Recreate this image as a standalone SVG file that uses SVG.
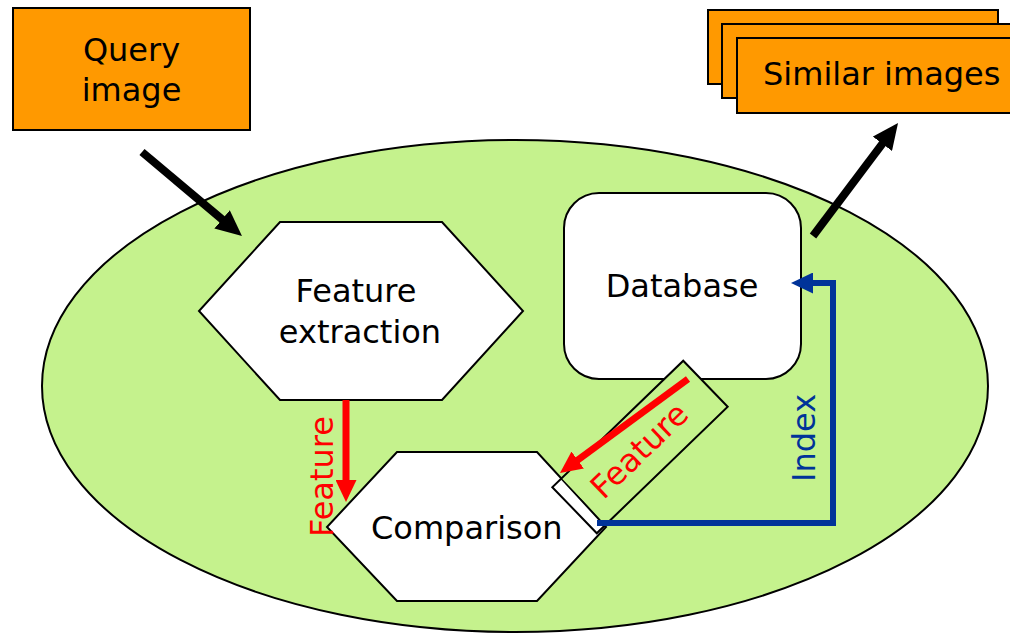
<svg xmlns="http://www.w3.org/2000/svg" width="1010" height="636" viewBox="0 0 1010 636">
<style>
text{font-family:"DejaVu Sans","Liberation Sans",sans-serif;font-size:32px;fill:#000}
.box{fill:#FF9900;stroke:#000;stroke-width:2}
.node{fill:#fff;stroke:#000;stroke-width:2}
.blk{stroke:#000;stroke-width:8;fill:none}
.red{stroke:#FF0000;stroke-width:7;fill:none}
.blu{stroke:#003399;stroke-width:6;fill:none;stroke-linejoin:miter}
.rt{fill:#FF0000}
.bt{fill:#003399}
</style>
<defs>
<marker id="hb" markerUnits="userSpaceOnUse" markerWidth="26" markerHeight="24" refX="2" refY="12" orient="auto" viewBox="0 0 26 24"><path d="M0,0 L26,12 L0,24 z" fill="#000"/></marker>
<marker id="hr" markerUnits="userSpaceOnUse" markerWidth="22" markerHeight="21" refX="2" refY="10.5" orient="auto" viewBox="0 0 22 21"><path d="M0,0 L22,10.5 L0,21 z" fill="#FF0000"/></marker>
<marker id="hl" markerUnits="userSpaceOnUse" markerWidth="22" markerHeight="21" refX="2" refY="10.5" orient="auto" viewBox="0 0 22 21"><path d="M0,0 L22,10.5 L0,21 z" fill="#003399"/></marker>
</defs>
<g id="system">
<ellipse cx="515" cy="386" rx="473" ry="246" fill="#C5F28D" stroke="#000" stroke-width="2"/>
</g>
<g id="query">
<rect class="box" x="13" y="8" width="237" height="122"/>
<text x="131.5" y="61" text-anchor="middle">Query</text>
<text x="131.5" y="101" text-anchor="middle">image</text>
</g>
<g id="similar">
<rect class="box" x="708" y="10" width="290" height="74"/>
<rect class="box" x="722" y="24" width="300" height="74"/>
<rect class="box" x="737" y="38" width="300" height="75"/>
<text x="763" y="85">Similar images</text>
</g>
<g id="extraction">
<polygon class="node" points="280,222 442,222 523,311 442,400 280,400 199,311"/>
<text x="356" y="302" text-anchor="middle">Feature</text>
<text x="360" y="343" text-anchor="middle">extraction</text>
</g>
<g id="database">
<rect class="node" x="564" y="193" width="237" height="186" rx="35" ry="35"/>
<text x="682" y="297" text-anchor="middle">Database</text>
</g>
<g id="comparison">
<polygon class="node" points="397,452 537,452 606,527 537,601 397,601 327,527"/>
<text x="371" y="539">Comparison</text>
</g>
<g id="featurebox" transform="translate(640,447) rotate(-44)">
<rect x="-78" y="-32" width="169" height="64" fill="#C5F28D"/>
<rect x="-91" y="-32" width="182" height="64" fill="none" stroke="#000" stroke-width="2"/>
</g>
<g id="connectors">
<line class="blk" x1="142" y1="152" x2="223.6" y2="220.6" marker-end="url(#hb)"/>
<line class="blk" x1="813" y1="236" x2="883.6" y2="142.2" marker-end="url(#hb)"/>
<line class="red" x1="346" y1="400" x2="346" y2="482" marker-end="url(#hr)"/>
<line class="red" x1="688" y1="379" x2="576.1" y2="461.2" marker-end="url(#hr)"/>
<path class="blu" d="M597,523 H833 V283 H811" marker-end="url(#hl)"/>
</g>
<g id="labels">
<text class="rt" transform="translate(333,537) rotate(-90)">Feature</text>
<text class="rt" transform="translate(640,447) rotate(-44)" x="-3" y="13" text-anchor="middle">Feature</text>
<text class="bt" transform="translate(815,482) rotate(-90)">Index</text>
</g>
</svg>
